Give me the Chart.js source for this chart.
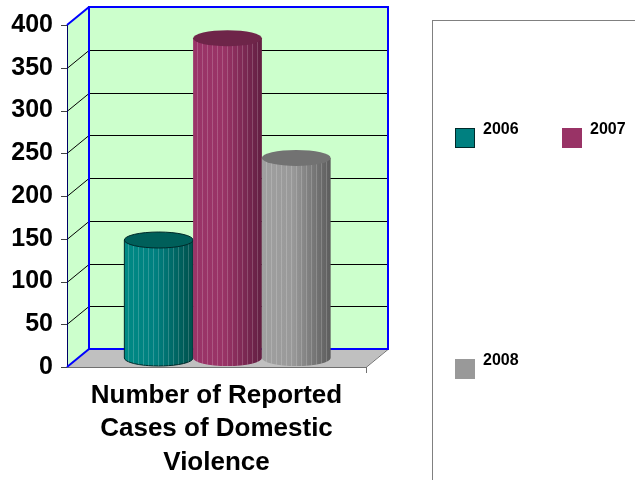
<!DOCTYPE html>
<html>
<head>
<meta charset="utf-8">
<title>Number of Reported Cases of Domestic Violence</title>
<script src="https://cdn.jsdelivr.net/npm/chart.js@4.4.1/dist/chart.umd.min.js"></script>
<style>
  body { margin: 0; background: #fff; }
  canvas { display: block; }
</style>
</head>
<body>
<canvas id="chart" width="635" height="480"></canvas>
<script>
/* chart data */
var categories = [['Number of Reported', 'Cases of Domestic', 'Violence']];
var seriesNames = ['2006', '2007', '2008'];
var cases2006 = [138];
var cases2007 = [374];
var cases2008 = [234];
var yTicks = [0, 50, 100, 150, 200, 250, 300, 350, 400];

var fillColors = ['#008080', '#993366', '#999999'];
var lightColors = ['#008a85', '#9a3468', '#a0a0a0'];
var darkColors = ['#00504c', '#621f42', '#5c5c5c'];
var topColors = ['#005f5a', '#6e2549', '#727272'];
var edgeColors = ['#002a2a', null, null];

var FONT = 'Arial, "Liberation Sans", sans-serif';
var depthX = 22;
var depthY = -18;

var threeD = {
  id: 'threeD',
  beforeDatasetsDraw: function(chart) {
    var ctx = chart.ctx;
    var area = chart.chartArea;
    var y = chart.scales.y;
    var l = area.left, r = area.right, t = y.getPixelForValue(400), b = y.getPixelForValue(0);

    ctx.save();

    // back wall + side wall
    ctx.fillStyle = '#ccffcc';
    ctx.fillRect(l + depthX, t + depthY, r - l, b - t);
    ctx.beginPath();
    ctx.moveTo(l, t);
    ctx.lineTo(l + depthX, t + depthY);
    ctx.lineTo(l + depthX, b + depthY);
    ctx.lineTo(l, b);
    ctx.closePath();
    ctx.fill();

    // floor
    ctx.beginPath();
    ctx.moveTo(l, b);
    ctx.lineTo(r, b);
    ctx.lineTo(r + depthX, b + depthY);
    ctx.lineTo(l + depthX, b + depthY);
    ctx.closePath();
    ctx.fillStyle = '#c0c0c0';
    ctx.fill();
    ctx.strokeStyle = '#707070';
    ctx.lineWidth = 1;
    ctx.beginPath();
    ctx.moveTo(l, b + 0.5);
    ctx.lineTo(r, b + 0.5);
    ctx.lineTo(r + depthX, b + depthY + 0.5);
    ctx.moveTo(r + 0.5, b);
    ctx.lineTo(r + 0.5, b + 6);
    ctx.stroke();

    // gridlines
    ctx.strokeStyle = '#000';
    ctx.lineWidth = 1;
    for (var i = 1; i < yTicks.length - 1; i++) {
      var py = Math.round(y.getPixelForValue(yTicks[i])) + 0.5;
      ctx.beginPath();
      ctx.moveTo(l + depthX, py + depthY);
      ctx.lineTo(r + depthX, py + depthY);
      ctx.moveTo(l, py);
      ctx.lineTo(l + depthX, py + depthY);
      ctx.stroke();
    }

    // tick marks and front axis
    ctx.strokeStyle = '#404040';
    ctx.beginPath();
    for (var j = 0; j < yTicks.length; j++) {
      var ty = Math.round(y.getPixelForValue(yTicks[j])) + 0.5;
      ctx.moveTo(l - 6, ty);
      ctx.lineTo(l, ty);
    }
    ctx.stroke();
    ctx.strokeStyle = '#000066';
    ctx.beginPath();
    ctx.moveTo(l + 0.5, t);
    ctx.lineTo(l + 0.5, b);
    ctx.stroke();

    // blue outline
    ctx.strokeStyle = '#0000ff';
    ctx.lineWidth = 2;
    ctx.strokeRect(l + depthX, t + depthY, r - l, b - t);
    ctx.beginPath();
    ctx.moveTo(l, t);
    ctx.lineTo(l + depthX, t + depthY);
    ctx.moveTo(l, b);
    ctx.lineTo(l + depthX, b + depthY);
    ctx.stroke();

    // cylinders
    chart.data.datasets.forEach(function(ds, di) {
      var meta = chart.getDatasetMeta(di);
      meta.data.forEach(function(bar) {
        var p = bar.getProps(['x', 'y', 'base', 'width'], true);
        var cx = p.x + depthX / 2;
        var rx = p.width / 2;
        var ry = 8;
        var top = p.y + depthY / 2;
        var base = p.base + depthY / 2;

        ctx.beginPath();
        ctx.moveTo(cx - rx, top);
        ctx.lineTo(cx - rx, base);
        ctx.ellipse(cx, base, rx, ry, 0, Math.PI, 0, true);
        ctx.lineTo(cx + rx, top);
        ctx.closePath();
        var g = ctx.createLinearGradient(cx - rx, 0, cx + rx, 0);
        g.addColorStop(0, lightColors[di]);
        g.addColorStop(0.45, fillColors[di]);
        g.addColorStop(1, darkColors[di]);
        ctx.fillStyle = g;
        ctx.fill();
        if (edgeColors[di]) {
          ctx.strokeStyle = edgeColors[di];
          ctx.lineWidth = 1;
          ctx.stroke();
        }

        // faint vertical banding
        ctx.save();
        ctx.clip();
        ctx.strokeStyle = 'rgba(255,255,255,0.18)';
        ctx.lineWidth = 1;
        ctx.beginPath();
        for (var sx = cx - rx + 4; sx < cx + rx; sx += 5) {
          ctx.moveTo(Math.round(sx) + 0.5, top);
          ctx.lineTo(Math.round(sx) + 0.5, base + ry);
        }
        ctx.stroke();
        ctx.restore();

        ctx.beginPath();
        ctx.ellipse(cx, top, rx, ry, 0, 0, Math.PI * 2);
        ctx.fillStyle = topColors[di];
        ctx.fill();
        if (edgeColors[di]) {
          ctx.strokeStyle = edgeColors[di];
          ctx.stroke();
        }
      });
    });

    ctx.restore();
    return false;
  }
};

var boxLegend = {
  id: 'boxLegend',
  afterDraw: function(chart) {
    var ctx = chart.ctx;
    ctx.save();
    ctx.strokeStyle = '#808080';
    ctx.lineWidth = 1;
    ctx.strokeRect(432.5, 20.5, 300, 500);

    ctx.font = 'bold 16px ' + FONT;
    ctx.textBaseline = 'middle';
    ctx.textAlign = 'left';
    chart.data.datasets.forEach(function(ds, i) {
      var sx = 455 + (i % 2) * 107;
      var sy = 128 + Math.floor(i / 2) * 231;
      ctx.fillStyle = ds.backgroundColor;
      ctx.fillRect(sx, sy, 20, 20);
      if (edgeColors[i]) {
        ctx.strokeStyle = edgeColors[i];
        ctx.strokeRect(sx + 0.5, sy + 0.5, 19, 19);
      }
      ctx.fillStyle = '#000';
      ctx.fillText(ds.label, sx + 28, sy + 2);
    });
    ctx.restore();
  }
};

var chart = new Chart(document.getElementById('chart'), {
  type: 'bar',
  data: {
    labels: categories,
    datasets: [
      { label: seriesNames[0], data: cases2006, backgroundColor: fillColors[0] },
      { label: seriesNames[1], data: cases2007, backgroundColor: fillColors[1] },
      { label: seriesNames[2], data: cases2008, backgroundColor: fillColors[2] }
    ]
  },
  options: {
    responsive: false,
    animation: false,
    events: [],
    categoryPercentage: 0.69,
    barPercentage: 1.0,
    layout: { padding: { left: 0, top: 25, right: 269, bottom: 0 } },
    plugins: {
      legend: { display: false },
      tooltip: { enabled: false }
    },
    scales: {
      x: {
        grid: { display: false, drawTicks: false },
        border: { display: false },
        ticks: {
          color: '#000',
          padding: 12,
          maxRotation: 0,
          autoSkip: false,
          font: { family: FONT, size: 26, weight: 'bold', lineHeight: '33.5px' }
        },
        afterFit: function(scale) { scale.height = 113; }
      },
      y: {
        min: 0,
        max: 400,
        grid: { display: false, drawTicks: false },
        border: { display: false },
        ticks: {
          stepSize: 50,
          color: '#000',
          padding: 14,
          font: { family: FONT, size: 25, weight: 'bold' }
        },
        afterFit: function(scale) {
          scale.width = 67;
          // keep the label padding from pushing the plot top down
          scale.paddingTop = 12;
          scale.paddingBottom = 12;
        }
      }
    }
  },
  plugins: [threeD, boxLegend]
});
</script>
</body>
</html>
